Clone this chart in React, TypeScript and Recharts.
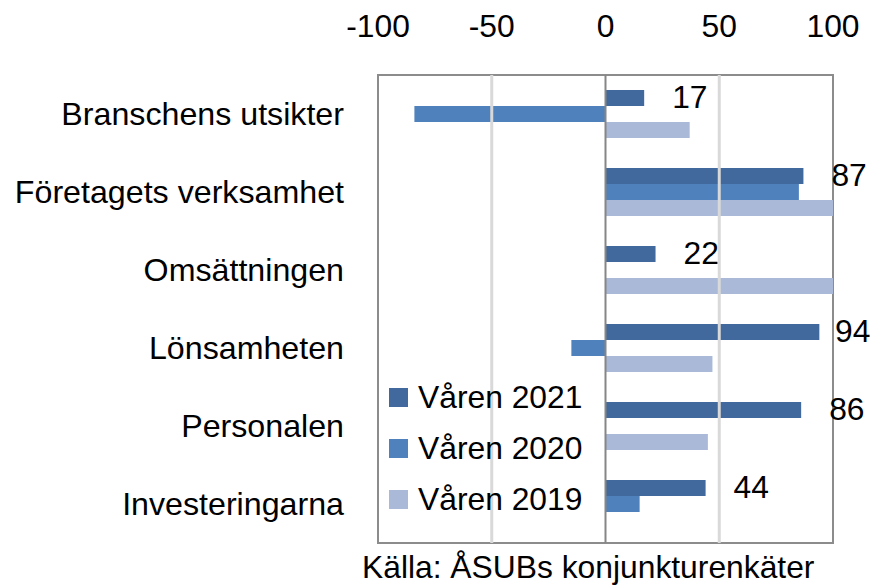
import React from "react";
import {
  BarChart,
  Bar,
  XAxis,
  YAxis,
  ReferenceLine,
  ReferenceArea,
  Legend,
  LabelList,
} from "recharts";

const categories = [
  "Branschens utsikter",
  "Företagets verksamhet",
  "Omsättningen",
  "Lönsamheten",
  "Personalen",
  "Investeringarna",
];
const varen2021: (number | null)[] = [17, 87, 22, 94, 86, 44];
const varen2020: (number | null)[] = [-84, 85, null, -15, null, 15];
const varen2019: (number | null)[] = [37, 100, 100, 47, 45, null];
const xTicks = [-100, -50, 0, 50, 100];

const seriesInfo = [
  { key: "v2021", name: "Våren 2021", color: "#41699D" },
  { key: "v2020", name: "Våren 2020", color: "#4F81BD" },
  { key: "v2019", name: "Våren 2019", color: "#A9B9D7" },
];

const data = categories.map((name, i) => ({
  name,
  v2021: varen2021[i],
  v2020: varen2020[i],
  v2019: varen2019[i],
}));

const FONT = "'Liberation Sans', Arial, sans-serif";
const FS = 31.8;
const FS_CAT = 32.2;

const renderLabel = (props: any) => {
  const { x, y, width, height, value } = props;
  if (value == null) return null;
  const end = Number(x) + Number(width);
  const tx = Math.min(end + 28, 835);
  return (
    <text
      x={tx}
      y={Number(y) + Number(height) / 2 - 1}
      dy="0.36em"
      fontSize={FS}
      fontFamily={FONT}
      fill="#000"
      textAnchor="start"
    >
      {value}
    </text>
  );
};

const renderLegend = () => (
  <div style={{ fontFamily: FONT, fontSize: FS, color: "#000" }}>
    {seriesInfo.map((s) => (
      <div
        key={s.key}
        style={{ display: "flex", alignItems: "center", height: 51 }}
      >
        <span
          style={{
            display: "inline-block",
            width: 19,
            height: 19,
            background: s.color,
            marginRight: 10,
          }}
        />
        <span style={{ lineHeight: "31px" }}>{s.name}</span>
      </div>
    ))}
  </div>
);

export default function App() {
  return (
    <div
      style={{
        position: "absolute",
        left: 0,
        top: 0,
        width: 876,
        height: 587,
        background: "#fff",
      }}
    >
      <BarChart
        width={876}
        height={587}
        data={data}
        layout="vertical"
        margin={{ top: 0, right: 43, bottom: 44, left: 0 }}
        barSize={16}
        barGap={0}
      >
        <XAxis
          type="number"
          orientation="top"
          domain={[-100, 100]}
          ticks={xTicks}
          height={75}
          axisLine={false}
          tickLine={false}
          tickSize={0}
          tickMargin={38}
          tick={{ fontSize: FS, fill: "#000", fontFamily: FONT }}
          allowDataOverflow
        />
        <YAxis
          type="category"
          dataKey="name"
          width={378}
          axisLine={false}
          tickLine={false}
          tickSize={0}
          tickMargin={34}
          tick={{ fontSize: FS_CAT, fill: "#000", fontFamily: FONT }}
        />
        <ReferenceLine x={-50} stroke="#D9D9D9" strokeWidth={3} />
        <ReferenceLine x={50} stroke="#D9D9D9" strokeWidth={3} />
        <Legend
          layout="vertical"
          align="center"
          verticalAlign="middle"
          content={renderLegend}
          wrapperStyle={{ position: "absolute", left: 389, top: 372, width: 220 }}
        />
        {seriesInfo.map((s) => (
          <Bar
            key={s.key}
            dataKey={s.key}
            name={s.name}
            fill={s.color}
            isAnimationActive={false}
          >
            {s.key === "v2021" ? (
              <LabelList dataKey="v2021" content={renderLabel} />
            ) : null}
          </Bar>
        ))}
        <ReferenceLine x={0} stroke="#868686" strokeWidth={2} />
        <ReferenceArea
          x1={-100}
          x2={100}
          fill="none"
          stroke="#8C8C8C"
          strokeWidth={2}
          ifOverflow="visible"
        />
      </BarChart>
      <div
        style={{
          position: "absolute",
          left: 362,
          top: 552,
          fontFamily: FONT,
          fontSize: FS,
          lineHeight: "31px",
          color: "#000",
          whiteSpace: "nowrap",
        }}
      >
        Källa: ÅSUBs konjunkturenkäter
      </div>
    </div>
  );
}
